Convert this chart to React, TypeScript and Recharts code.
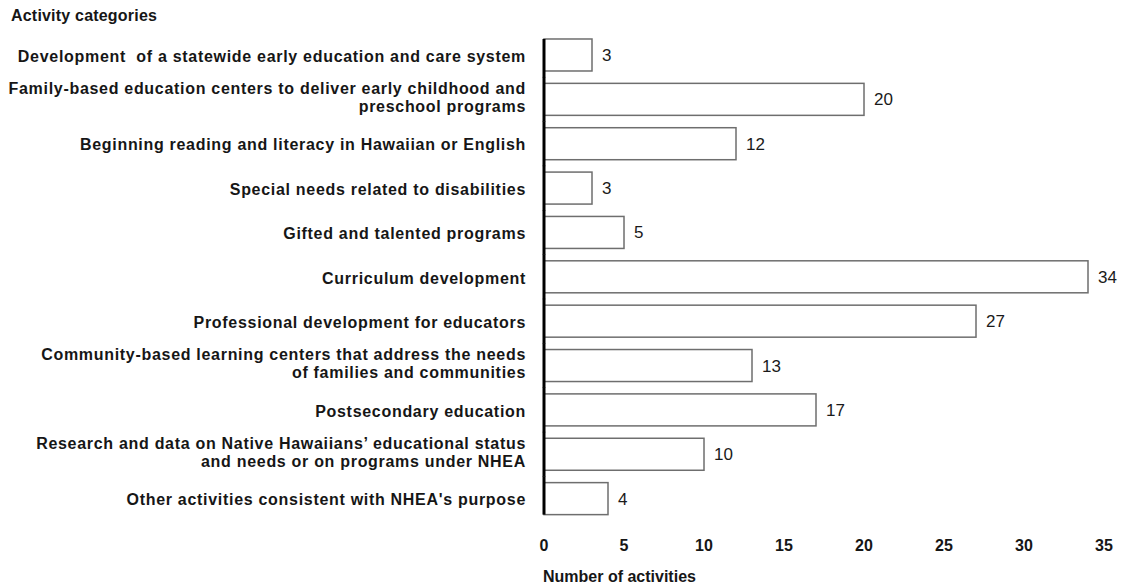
import React from 'react';
import { BarChart, Bar, XAxis, YAxis, LabelList } from 'recharts';

// activity categories, top to bottom ("\n" marks a line break in the label)
const categories = [
  'Development  of a statewide early education and care system',
  'Family-based education centers to deliver early childhood and\npreschool programs',
  'Beginning reading and literacy in Hawaiian or English',
  'Special needs related to disabilities',
  'Gifted and talented programs',
  'Curriculum development',
  'Professional development for educators',
  'Community-based learning centers that address the needs\nof families and communities',
  'Postsecondary education',
  'Research and data on Native Hawaiians\u2019 educational status\nand needs or on programs under NHEA',
  "Other activities consistent with NHEA's purpose",
];

const activityCounts = [3, 20, 12, 3, 5, 34, 27, 13, 17, 10, 4];

const xTicks = [0, 5, 10, 15, 20, 25, 30, 35];

const data = categories.map((name, i) => ({ name, count: activityCounts[i] }));

const FONT = '"Liberation Sans", Arial, Helvetica, sans-serif';
const INK = '#161616';
// fraction of each band left empty above and below a bar
const GAP = 0.135;

const CategoryTick = (props: any) => {
  const { x, y, payload } = props;
  const lines = String(payload.value).split('\n');
  const first = (-(lines.length - 1) / 2) * 18 + 6.5 - (lines.length - 1) * 3;
  return (
    <text
      x={x}
      y={y}
      textAnchor="end"
      fontSize={16}
      fontWeight="bold"
      fill={INK}
      fontFamily={FONT}
      letterSpacing={0.7}
      style={{ whiteSpace: 'pre' }}
    >
      {lines.map((line, i) => (
        <tspan key={i} x={x} dy={i === 0 ? first : 18}>
          {line}
        </tspan>
      ))}
    </text>
  );
};

// white bar plus the heavy zero line running along its band
const BarWithAxis = (props: any) => {
  const { x, y, width, height, index } = props;
  const pad = (height * GAP) / (1 - 2 * GAP) + 0.5;
  const top = index === 0 ? y : y - pad;
  const bottom = index === categories.length - 1 ? y + height : y + height + pad;
  return (
    <g>
      <rect x={x} y={y} width={width} height={height} fill="#ffffff" stroke="#6e6e6e" strokeWidth={1.5} />
      <line x1={x} x2={x} y1={top} y2={bottom} stroke="#000" strokeWidth={3} />
    </g>
  );
};

export default function App() {
  return (
    <div style={{ position: 'absolute', left: 0, top: 0, width: 1126, height: 588, background: '#fff', fontFamily: FONT }}>
      <div
        style={{
          position: 'absolute',
          left: 11,
          top: 7,
          fontSize: 16,
          fontWeight: 'bold',
          color: INK,
          lineHeight: '18px',
          letterSpacing: 0.2,
        }}
      >
        Activity categories
      </div>
      <div
        style={{
          position: 'absolute',
          left: 543,
          top: 568,
          fontSize: 16,
          fontWeight: 'bold',
          color: INK,
          lineHeight: '18px',
        }}
      >
        Number of activities
      </div>
      <BarChart
        width={1126}
        height={588}
        data={data}
        layout="vertical"
        margin={{ top: 33, right: 22, bottom: 0, left: 0 }}
        barCategoryGap={`${GAP * 100}%`}
      >
        <XAxis
          type="number"
          domain={[0, 35]}
          ticks={xTicks}
          axisLine={false}
          tickLine={false}
          tickSize={0}
          tickMargin={19}
          height={67}
          tick={{ fontSize: 16, fontWeight: 'bold', fill: INK, fontFamily: FONT }}
          interval={0}
        />
        <YAxis
          type="category"
          dataKey="name"
          width={544}
          axisLine={false}
          tickLine={false}
          tickSize={0}
          tickMargin={18}
          interval={0}
          tick={<CategoryTick />}
        />
        <Bar dataKey="count" shape={<BarWithAxis />} isAnimationActive={false}>
          <LabelList
            dataKey="count"
            position="right"
            offset={10}
            fontSize={17}
            fill="#1a1a1a"
            fontFamily={FONT}
          />
        </Bar>
      </BarChart>
    </div>
  );
}
